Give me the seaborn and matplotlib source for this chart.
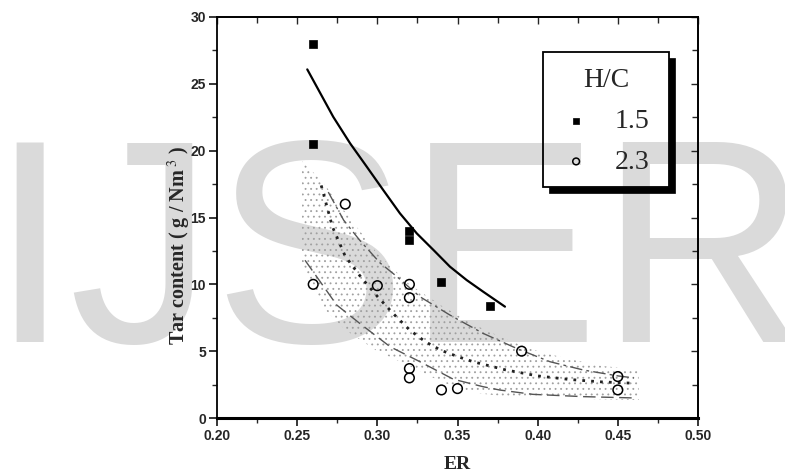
import numpy as np
import pandas as pd
import matplotlib
matplotlib.use("Agg")
import matplotlib.pyplot as plt
from matplotlib.patches import Rectangle, Polygon
from matplotlib.ticker import MultipleLocator, FormatStrFormatter
import seaborn as sns

# measured points, H/C = 1.5
er_15 = [0.26, 0.26, 0.32, 0.32, 0.34, 0.37]
tar_15 = [28.0, 20.5, 14.0, 13.3, 10.2, 8.4]

# measured points, H/C = 2.3
er_23 = [0.26, 0.28, 0.30, 0.32, 0.32, 0.32, 0.32, 0.34, 0.35, 0.39, 0.45, 0.45]
tar_23 = [10.0, 16.0, 9.9, 10.0, 9.0, 3.7, 3.0, 2.1, 2.2, 5.0, 3.1, 2.1]

# fitted curve for H/C = 1.5
fit15_x = [0.2563, 0.2725, 0.283, 0.2934, 0.3037, 0.3141, 0.3246, 0.335,
           0.3453, 0.3557, 0.366, 0.3796]
fit15_y = [26.08, 22.53, 20.55, 18.8, 17.05, 15.31, 13.81, 12.57,
           11.32, 10.32, 9.45, 8.33]

# fitted curve and bounds for H/C = 2.3
fit23_x = [0.265, 0.272, 0.28, 0.29, 0.30, 0.31, 0.32, 0.33, 0.34, 0.35,
           0.36, 0.38, 0.40, 0.42, 0.44, 0.46]
fit23_y = [17.4, 14.3, 12.1, 10.5, 9.1, 7.8, 6.6, 5.7, 5.05, 4.6,
           4.2, 3.6, 3.15, 2.88, 2.7, 2.6]
upper_x = [0.2694, 0.279, 0.289, 0.3017, 0.312, 0.3266, 0.3453, 0.366,
           0.387, 0.4077, 0.4285, 0.45, 0.46]
upper_y = [16.9, 14.8, 13.3, 11.6, 10.6, 9.07, 7.7, 6.33, 5.2, 4.21, 3.59, 3.15, 3.0]
lower_x = [0.2549, 0.2747, 0.289, 0.308, 0.3266, 0.3474, 0.366, 0.3765,
           0.397, 0.428, 0.46]
lower_y = [11.8, 8.45, 7.08, 5.33, 4.21, 2.9, 2.34, 2.09, 1.77, 1.6, 1.5]

# stippled band
band_x = [0.253, 0.265, 0.28, 0.30, 0.32, 0.34, 0.36, 0.38, 0.40, 0.42, 0.44, 0.463]
band_hi = [19.2, 17.8, 15.4, 12.3, 10.0, 8.4, 7.0, 5.9, 5.0, 4.4, 3.9, 3.6]
band_lo = [11.6, 8.4, 6.6, 5.0, 3.9, 2.7, 1.9, 1.6, 1.45, 1.45, 1.4, 1.35]

sns.set_style("white")
plt.rcParams["mathtext.fontset"] = "stix"
plt.rcParams["hatch.linewidth"] = 0.6

fig = plt.figure(figsize=(7.85, 4.74), dpi=100)
fig.patch.set_facecolor("white")
ax = fig.add_axes([217 / 785, 1 - 418 / 474, 481 / 785, 401 / 474])
ax.set_facecolor("none")

# watermark
fig.text(-11 / 785, 1 - 342 / 474, "IJSER", fontsize=208, color="#dadada",
         family="Liberation Sans", ha="left", va="baseline", zorder=-1)

ax.fill_between(band_x, band_lo, band_hi, facecolor="none", edgecolor="#a0a0a0",
                linewidth=0, hatch="...")

sns.lineplot(x=upper_x, y=upper_y, ax=ax, color="#555555", lw=1.0,
             linestyle=(0, (9, 3, 2, 3)), sort=False, estimator=None)
sns.lineplot(x=lower_x, y=lower_y, ax=ax, color="#555555", lw=1.0,
             linestyle=(0, (9, 4)), sort=False, estimator=None)
sns.lineplot(x=fit23_x, y=fit23_y, ax=ax, color="#222222", lw=2.0,
             linestyle=(0, (1, 2.2)), sort=False, estimator=None)
sns.lineplot(x=fit15_x, y=fit15_y, ax=ax, color="black", lw=1.6,
             sort=False, estimator=None)

sns.scatterplot(x=er_15, y=tar_15, ax=ax, marker="s", s=38, color="black",
                edgecolor="black", label="1.5", zorder=5)
sns.scatterplot(x=er_23, y=tar_23, ax=ax, marker="o", s=48, color="black",
                facecolor="none", edgecolor="black", linewidth=1.1,
                label="2.3", zorder=5)

ax.set_xlim(0.20, 0.50)
ax.set_ylim(0, 30)
ax.xaxis.set_major_locator(MultipleLocator(0.05))
ax.xaxis.set_minor_locator(MultipleLocator(0.025))
ax.xaxis.set_major_formatter(FormatStrFormatter("%.2f"))
ax.yaxis.set_major_locator(MultipleLocator(5))
ax.yaxis.set_minor_locator(MultipleLocator(2.5))
ax.tick_params(which="major", direction="out", length=6, width=1.1, pad=2,
               labelsize=10, color="black", bottom=True, left=True)
ax.tick_params(which="minor", direction="out", length=3.5, width=1.0,
               bottom=True, left=True)
for lab in ax.get_xticklabels() + ax.get_yticklabels():
    lab.set_family("Liberation Sans")
    lab.set_fontweight("bold")

top = ax.secondary_xaxis("top")
top.xaxis.set_major_locator(MultipleLocator(0.05))
top.xaxis.set_minor_locator(MultipleLocator(0.025))
top.tick_params(which="both", direction="in", length=5, width=1.0, labeltop=False)
top.tick_params(which="minor", length=4)
right = ax.secondary_yaxis("right")
right.yaxis.set_major_locator(MultipleLocator(5))
right.yaxis.set_minor_locator(MultipleLocator(2.5))
right.tick_params(which="both", direction="in", length=5, width=1.0, labelright=False)
right.tick_params(which="minor", length=4)

for name, sp in ax.spines.items():
    sp.set_visible(True)
    sp.set_color("black")
    sp.set_linewidth(1.3)
ax.spines["bottom"].set_linewidth(2.2)
top.spines["top"].set_linewidth(1.3)
right.spines["right"].set_linewidth(1.3)

ax.set_xlabel("ER", family="Liberation Serif", fontweight="bold", fontsize=14,
              labelpad=9)
ax.set_ylabel(r"Tar content ( g / Nm$^{\ 3}$ )", family="Liberation Serif",
              fontweight="bold", fontsize=14.5, labelpad=1)
ax.yaxis.set_label_coords(-0.049, (418 - 245) / 401)

# legend box with solid shadow
x0, x1 = (543 - 217) / 481, (669 - 217) / 481
y0, y1 = (418 - 187) / 401, (418 - 52) / 401
dx, dy = 6 / 481, 6 / 401
shadow = Polygon([(x1, y1 - dy), (x1 + dx, y1 - dy), (x1 + dx, y0 - dy),
                  (x0 + dx, y0 - dy), (x0 + dx, y0), (x1, y0)],
                 closed=True, transform=ax.transAxes, facecolor="black",
                 edgecolor="black", lw=0.5, clip_on=False, zorder=6)
ax.add_patch(shadow)
ax.add_patch(Rectangle((x0, y0), x1 - x0, y1 - y0, transform=ax.transAxes,
                       fill=False, edgecolor="black", lw=1.3, clip_on=False,
                       zorder=6))

leg = ax.legend(title="H/C", loc="center",
                bbox_to_anchor=((x0 + x1) / 2, (y0 + y1) / 2 - 0.005),
                frameon=False, markerscale=0.7, handlelength=1.0,
                handletextpad=0.9, labelspacing=0.55, borderaxespad=0,
                prop={"family": "Liberation Serif", "size": 20},
                title_fontproperties={"family": "Liberation Serif", "size": 20})
leg.set_zorder(7)

fig.savefig("out.png", dpi=100)
